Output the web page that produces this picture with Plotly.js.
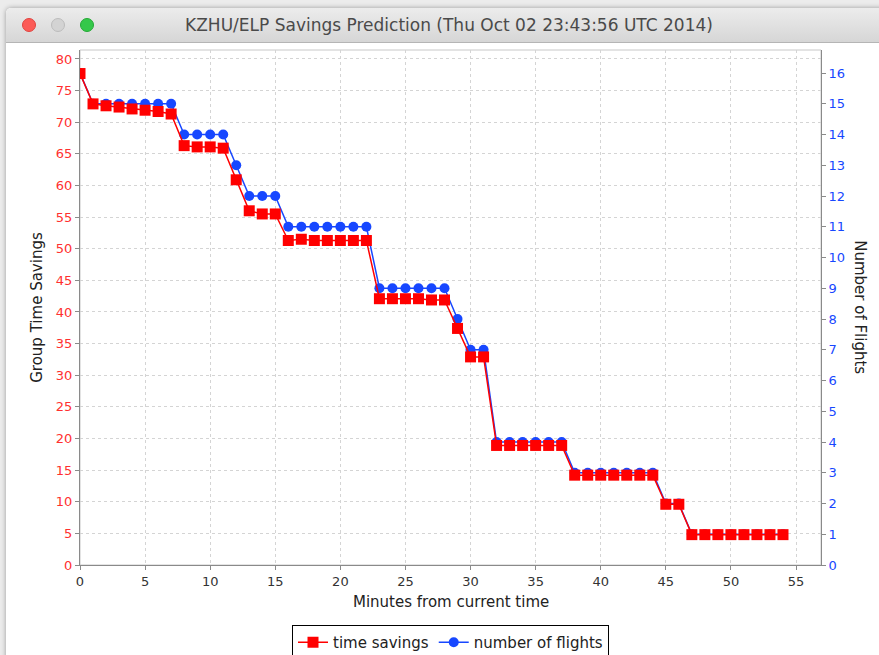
<!DOCTYPE html>
<html>
<head>
<meta charset="utf-8">
<script src="https://cdn.plot.ly/plotly-3.0.1.min.js"></script>
<style>
html,body{margin:0;padding:0;}
#outer{position:absolute;left:0;top:0;width:879px;height:655px;background:#ececec;overflow:hidden;}
#win{position:absolute;left:6px;top:8px;width:900px;height:700px;background:#ffffff;border-radius:5px 5px 0 0;box-shadow:0 0 5px rgba(0,0,0,0.35);}
#bar{position:absolute;left:0;top:0;width:900px;height:34px;background:linear-gradient(#ececec,#d6d6d6);border-bottom:1px solid #b5b5b5;border-radius:5px 5px 0 0;}
.tl{position:absolute;top:10px;width:12px;height:12px;border-radius:50%;}
#wtitle{position:absolute;left:0;top:15px;width:898px;text-align:center;font-family:"DejaVu Sans",sans-serif;font-size:17px;color:#4a4a4a;white-space:nowrap;}
#plot{position:absolute;left:0;top:0;width:879px;height:690px;}
</style>
</head>
<body>
<div id="outer">
  <div id="win">
    <div id="bar">
      <div class="tl" style="left:16px;background:#fc5b57;border:1px solid #e0443f;"></div>
      <div class="tl" style="left:45px;background:#d3d3d3;border:1px solid #bcbcbc;"></div>
      <div class="tl" style="left:74px;background:#35c84a;border:1px solid #24a935;"></div>
    </div>
  </div>
  <div id="wtitle">KZHU/ELP Savings Prediction (Thu Oct 02 23:43:56 UTC 2014)</div>
  <div id="plot"></div>
</div>
<script>
// Data
const minutes = [0,1,2,3,4,5,6,7,8,9,10,11,12,13,14,15,16,17,18,19,20,21,22,23,24,25,26,27,28,29,30,31,32,33,34,35,36,37,38,39,40,41,42,43,44,45,46,47,48,49,50,51,52,53,54];
const timeSavings = [77.7,72.9,72.6,72.4,72.1,71.9,71.7,71.3,66.3,66.1,66.1,65.9,60.9,56.0,55.5,55.5,51.3,51.5,51.3,51.3,51.3,51.3,51.3,42.1,42.1,42.1,42.1,41.9,41.9,37.4,32.9,32.9,18.9,18.9,18.9,18.9,18.9,18.9,14.2,14.2,14.2,14.2,14.2,14.2,14.2,9.6,9.6,4.8,4.8,4.8,4.8,4.8,4.8,4.8,4.8];
const numFlights = [16,15,15,15,15,15,15,15,14,14,14,14,13,12,12,12,11,11,11,11,11,11,11,9,9,9,9,9,9,8,7,7,4,4,4,4,4,4,3,3,3,3,3,3,3,2,2,1,1,1,1,1,1,1,1];

const FONT = '"DejaVu Sans", sans-serif';
const RED = '#ff0000';
const BLUE = '#1747ff';

const traces = [
  {
    x: minutes, y: timeSavings, name: 'time savings', yaxis: 'y2',
    type: 'scatter', mode: 'lines+markers',
    line: {color: RED, width: 1.5},
    marker: {symbol: 'square', size: 11, color: RED}
  },
  {
    x: minutes, y: numFlights, name: 'number of flights', yaxis: 'y',
    type: 'scatter', mode: 'lines+markers',
    line: {color: BLUE, width: 1.5},
    marker: {symbol: 'circle', size: 10, color: BLUE}
  }
];

const layout = {
  width: 879, height: 690,
  paper_bgcolor: 'rgba(0,0,0,0)',
  plot_bgcolor: '#ffffff',
  margin: {l: 80, r: 58, t: 50, b: 125, pad: 0},
  font: {family: FONT, size: 13, color: '#333333'},
  showlegend: true,
  xaxis: {
    range: [0, 56.92], tick0: 0, dtick: 5,
    showgrid: true, gridcolor: '#d4d4d4', griddash: '3px,3px', gridwidth: 1,
    zeroline: false, showline: true, linecolor: '#8a8a8a', linewidth: 1,
    ticks: 'outside', ticklen: 4, tickcolor: '#8a8a8a',
    tickfont: {family: FONT, size: 13, color: '#333333'}
  },
  yaxis: {
    range: [0, 16.75], tick0: 0, dtick: 1, side: 'right',
    showgrid: false, zeroline: false, showline: true, linecolor: '#8a8a8a', linewidth: 1,
    ticks: 'outside', ticklen: 4, tickcolor: '#8a8a8a',
    tickfont: {family: FONT, size: 13, color: BLUE}
  },
  yaxis2: {
    range: [0, 81.42], tick0: 0, dtick: 5, side: 'left', overlaying: 'y',
    showgrid: true, gridcolor: '#d4d4d4', griddash: '3px,3px', gridwidth: 1,
    zeroline: false, showline: true, linecolor: '#8a8a8a', linewidth: 1,
    ticks: 'outside', ticklen: 4, tickcolor: '#8a8a8a',
    tickfont: {family: FONT, size: 13, color: '#ff3030'}
  },
  shapes: [
    {type: 'rect', xref: 'paper', yref: 'paper', x0: 0, x1: 1, y0: 0, y1: 1,
     line: {color: '#c8c8c8', width: 1}, layer: 'below'}
  ],
  annotations: [
    {text: 'Minutes from current time', xref: 'paper', yref: 'paper', x: 0.5, y: -0.072,
     xanchor: 'center', yanchor: 'middle', showarrow: false,
     font: {family: FONT, size: 15, color: '#222222'}},
    {text: 'Group Time Savings', xref: 'paper', yref: 'paper', x: -0.059, y: 0.5,
     xanchor: 'center', yanchor: 'middle', showarrow: false, textangle: -90,
     font: {family: FONT, size: 15, color: '#222222'}},
    {text: 'Number of Flights', xref: 'paper', yref: 'paper', x: 1.053, y: 0.5,
     xanchor: 'center', yanchor: 'middle', showarrow: false, textangle: 90,
     font: {family: FONT, size: 15, color: '#222222'}}
  ],
  legend: {
    orientation: 'h', x: 0.5, xanchor: 'center', y: -0.1165, yanchor: 'top',
    bordercolor: '#000000', borderwidth: 1, bgcolor: '#ffffff',
    font: {family: FONT, size: 15, color: '#222222'},
    itemwidth: 30, tracegroupgap: 0
  }
};

Plotly.newPlot('plot', traces, layout, {displayModeBar: false, staticPlot: true});
</script>
</body>
</html>
